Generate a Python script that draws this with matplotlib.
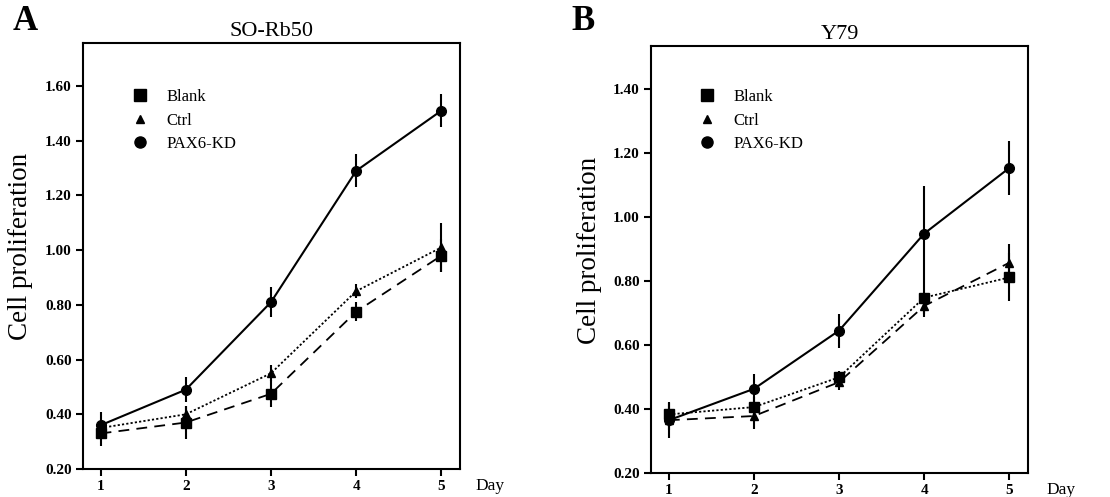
import matplotlib
matplotlib.use("Agg")
import matplotlib.pyplot as plt
from matplotlib.lines import Line2D

days = [1, 2, 3, 4, 5]
series_names = ["Blank", "Ctrl", "PAX6-KD"]

# Panel A: SO-Rb50
a_blank = [0.33, 0.37, 0.475, 0.775, 0.98]
a_blank_err = [0.045, 0.06, 0.05, 0.035, 0.06]
a_ctrl = [0.35, 0.40, 0.55, 0.85, 1.01]
a_ctrl_err = [0.03, 0.03, 0.03, 0.025, 0.09]
a_pax6 = [0.36, 0.49, 0.81, 1.29, 1.51]
a_pax6_err = [0.05, 0.045, 0.055, 0.06, 0.06]
a_yticks = [0.20, 0.40, 0.60, 0.80, 1.00, 1.20, 1.40, 1.60]

# Panel B: Y79
b_blank = [0.383, 0.406, 0.499, 0.748, 0.811]
b_blank_err = [0.04, 0.03, 0.02, 0.05, 0.075]
b_ctrl = [0.365, 0.378, 0.484, 0.722, 0.857]
b_ctrl_err = [0.03, 0.04, 0.025, 0.035, 0.06]
b_pax6 = [0.365, 0.463, 0.645, 0.948, 1.153]
b_pax6_err = [0.055, 0.045, 0.053, 0.15, 0.085]
b_yticks = [0.20, 0.40, 0.60, 0.80, 1.00, 1.20, 1.40]

plt.rcParams['font.family'] = ['Liberation Serif', 'DejaVu Serif']

fig = plt.figure(figsize=(11.1, 4.97), dpi=100)
axA = fig.add_axes([0.0745, 0.0563, 0.340, 0.857])
axB = fig.add_axes([0.5865, 0.0483, 0.3396, 0.859])

dotted = (0, (1.2, 1.2))
dashed = (0, (6, 4))


def draw(ax, blank, blank_err, ctrl, ctrl_err, pax6, pax6_err, ylim, yticks,
         title, blank_ls, ctrl_ls, leg_xy, day_x, ylab_x):
    kw = dict(color='black', ecolor='black', elinewidth=1.5, capsize=0)
    ax.errorbar(days, blank, yerr=blank_err, marker='s', markersize=7,
                linestyle=blank_ls, linewidth=1.3, **kw)
    ax.errorbar(days, ctrl, yerr=ctrl_err, marker='^', markersize=6,
                linestyle=ctrl_ls, linewidth=1.3, **kw)
    ax.errorbar(days, pax6, yerr=pax6_err, marker='o', markersize=7,
                linestyle='-', linewidth=1.5, **kw)
    ax.set_xlim(0.79, 5.22)
    ax.set_ylim(*ylim)
    ax.set_xticks(days)
    ax.set_xticklabels([str(d) for d in days], fontweight='bold', fontsize=11)
    ax.set_yticks(yticks)
    ax.set_yticklabels([f"{v:.2f}" for v in yticks], fontweight='bold', fontsize=11)
    ax.tick_params(direction='out', length=5, width=1.5, pad=3)
    for s in ax.spines.values():
        s.set_linewidth(1.5)
    ax.set_title(title, fontsize=16, pad=5)
    ax.set_ylabel("Cell proliferation", fontsize=19.5)
    ax.yaxis.set_label_coords(ylab_x, 0.522)
    ax.text(day_x, -0.04, "Day", transform=ax.transAxes, fontsize=12.5,
            ha='left', va='center')
    handles = [
        Line2D([], [], marker='s', color='black', linestyle='none', markersize=8),
        Line2D([], [], marker='^', color='black', linestyle='none', markersize=6),
        Line2D([], [], marker='o', color='black', linestyle='none', markersize=8),
    ]
    ax.legend(handles, series_names, loc='upper left', bbox_to_anchor=leg_xy,
              frameon=False, fontsize=12, handletextpad=1.1, labelspacing=0.45,
              handlelength=1.0)


draw(axA, a_blank, a_blank_err, a_ctrl, a_ctrl_err, a_pax6, a_pax6_err,
     (0.20, 1.757), a_yticks, "SO-Rb50", dashed, dotted, (0.09, 0.927),
     1.04, -0.132)
draw(axB, b_blank, b_blank_err, b_ctrl, b_ctrl_err, b_pax6, b_pax6_err,
     (0.20, 1.534), b_yticks, "Y79", dotted, dashed, (0.087, 0.934),
     1.05, -0.13)

fig.text(25 / 1110, 1 - 22 / 497, "A", fontsize=25, fontweight='bold',
         ha='center', va='center')
fig.text(583 / 1110, 1 - 21 / 497, "B", fontsize=25, fontweight='bold',
         ha='center', va='center')

fig.savefig("out.png", dpi=100)
